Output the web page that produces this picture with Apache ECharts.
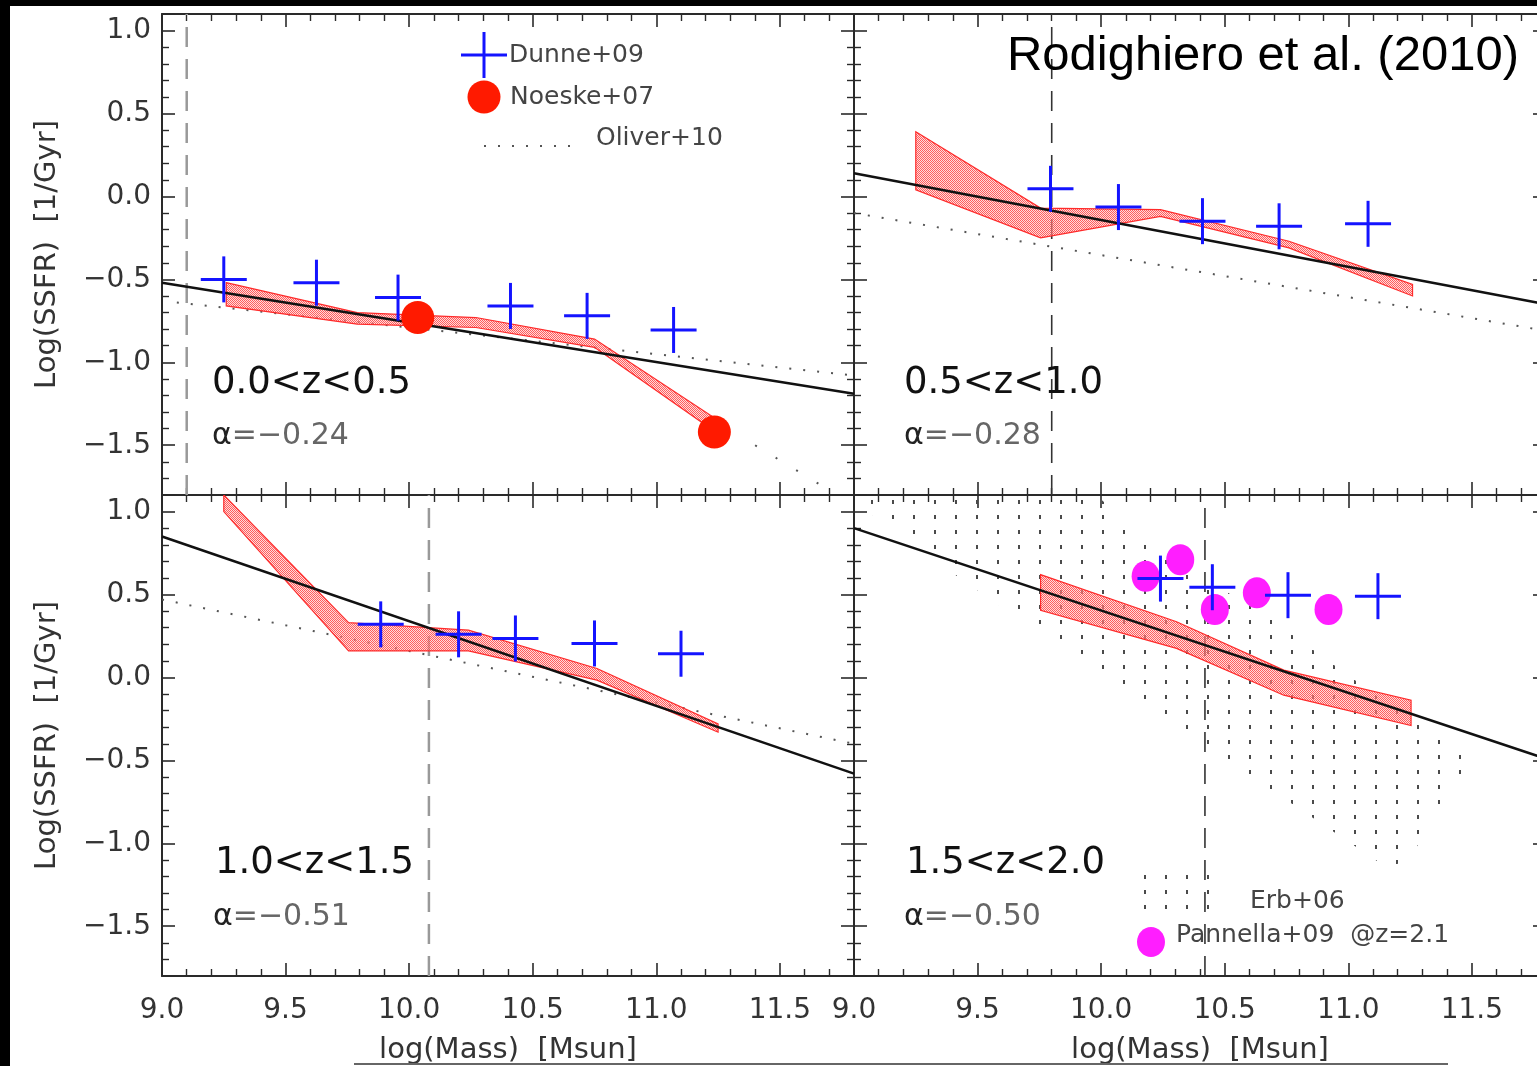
<!DOCTYPE html>
<html><head><meta charset="utf-8">
<script src="https://cdn.jsdelivr.net/npm/echarts@6/dist/echarts.min.js"></script>
<style>html,body{margin:0;padding:0;background:#fff;overflow:hidden}#c{width:1560px;height:1066px}</style>
</head><body><div id="c"></div>
<script>
// ---------- axis ranges & tick labels ----------
const xMin = 9.0, xMax = 11.8, yMin = -1.8, yMax = 1.1;
const xTickLabels = [9.0, 9.5, 10.0, 10.5, 11.0, 11.5];
const yTickLabels = [-1.5, -1.0, -0.5, 0.0, 0.5, 1.0];
const panelTitles = ['0.0<z<0.5', '0.5<z<1.0', '1.0<z<1.5', '1.5<z<2.0'];
const alphaValues = ['−0.24', '−0.28', '−0.51', '−0.50'];
const massLimits = [9.10, 9.80, 10.08, 10.42];

// ---------- panel 1 : 0.0<z<0.5 ----------
const p1DunneX = [9.25, 9.625, 9.955, 10.41, 10.72, 11.07];
const p1DunneY = [-0.50, -0.52, -0.61, -0.66, -0.72, -0.805];
const p1NoeskeX = [10.035, 11.235];
const p1NoeskeY = [-0.73, -1.42];
const p1BandX = [9.26, 9.79, 10.27, 10.75, 11.23];
const p1BandUp = [-0.52, -0.70, -0.73, -0.86, -1.33];
const p1BandLo = [-0.66, -0.77, -0.79, -0.91, -1.41];
const p1FitX = [9.0, 11.8], p1FitY = [-0.52, -1.19];
const p1OliverX = [9.06, 11.8], p1OliverY = [-0.64, -1.08];
const p1TailX = [11.40, 11.72], p1TailY = [-1.50, -1.79];

// ---------- panel 2 : 0.5<z<1.0 ----------
const p2DunneX = [9.795, 10.07, 10.41, 10.72, 11.08];
const p2DunneY = [0.046, -0.064, -0.149, -0.18, -0.165];
const p2BandX = [9.25, 9.755, 10.24, 10.76, 11.26];
const p2BandUp = [0.39, -0.07, -0.08, -0.27, -0.53];
const p2BandLo = [0.04, -0.25, -0.12, -0.31, -0.60];
const p2FitX = [9.0, 11.8], p2FitY = [0.14, -0.65];
const p2OliverX = [9.0, 11.8], p2OliverY = [-0.10, -0.81];

// ---------- panel 3 : 1.0<z<1.5 ----------
const p3DunneX = [9.885, 10.20, 10.43, 10.75, 11.10];
const p3DunneY = [0.32, 0.26, 0.235, 0.205, 0.143];
const p3BandX = [9.25, 9.755, 10.24, 10.76, 11.25];
const p3BandUp = [1.10, 0.33, 0.285, 0.054, -0.28];
const p3BandLo = [1.00, 0.16, 0.16, -0.016, -0.33];
const p3FitX = [9.0, 11.8], p3FitY = [0.85, -0.58];
const p3OliverX = [9.0, 11.8], p3OliverY = [0.47, -0.40];

// ---------- panel 4 : 1.5<z<2.0 ----------
const p4DunneX = [10.24, 10.45, 10.756, 11.12];
const p4DunneY = [0.596, 0.544, 0.496, 0.49];
const p4PannellaX = [10.18, 10.32, 10.46, 10.63, 10.92];
const p4PannellaY = [0.61, 0.71, 0.41, 0.51, 0.41];
const p4BandX = [9.755, 10.305, 10.739, 11.254];
const p4BandUp = [0.62, 0.336, 0.044, -0.137];
const p4BandLo = [0.405, 0.175, -0.107, -0.29];
const p4FitX = [9.0, 11.8], p4FitY = [0.90, -0.49];
const p4ErbX = [9.0, 9.98, 10.24, 10.65, 11.16, 11.51, 11.41, 11.25, 11.16, 10.65, 9.97, 9.38, 9.30, 9.13, 9.02];
const p4ErbY = [1.10, 1.10, 0.75, 0.39, -0.16, -0.48, -0.68, -1.09, -1.15, -0.64, 0.04, 0.65, 0.82, 0.91, 1.05];

// ---------- style ----------
const FONT = '"DejaVu Sans", sans-serif';
const BLUE = '#1414ff', RED = '#ff1a00', MAGENTA = '#ff1eff';
const AX = '#2a2a2a';

function pairs(xs, ys) { return xs.map((x, i) => [x, ys[i]]); }

function makeDashPattern() {
  const c = document.createElement('canvas');
  c.width = 21; c.height = 15;
  const g = c.getContext('2d');
  g.fillStyle = '#4a4a4a';
  g.fillRect(10, 5, 2, 4);
  return { image: c, repeat: 'repeat' };
}
function makeHatchPattern() {
  const c = document.createElement('canvas');
  c.width = 2; c.height = 2;
  const g = c.getContext('2d');
  g.fillStyle = 'rgba(255,190,190,0.55)';
  g.fillRect(0, 0, 2, 2);
  g.fillStyle = 'rgba(255,40,40,0.7)';
  g.fillRect(0, 0, 1, 1); g.fillRect(1, 1, 1, 1);
  return { image: c, repeat: 'repeat' };
}
const dashPattern = makeDashPattern();
const hatchPattern = makeHatchPattern();

function crossSeries(idx, xs, ys) {
  return {
    type: 'custom', xAxisIndex: idx, yAxisIndex: idx, z: 6, clip: true, silent: true,
    data: pairs(xs, ys),
    renderItem: (params, api) => {
      const p = api.coord([api.value(0), api.value(1)]);
      const h = 23;
      return { type: 'group', children: [
        { type: 'line', shape: { x1: p[0] - h, y1: p[1], x2: p[0] + h, y2: p[1] }, style: { stroke: BLUE, lineWidth: 3 } },
        { type: 'line', shape: { x1: p[0], y1: p[1] - h, x2: p[0], y2: p[1] + h }, style: { stroke: BLUE, lineWidth: 3 } }
      ] };
    }
  };
}

function polySeries(idx, verts, style, z) {
  return {
    type: 'custom', xAxisIndex: idx, yAxisIndex: idx, z: z, clip: true, silent: true,
    data: verts,
    renderItem: (params, api) => {
      if (params.dataIndex !== 0) return null;
      const pts = verts.map(v => api.coord(v));
      return { type: 'polygon', shape: { points: pts }, style: style };
    }
  };
}

function bandSeries(idx, xs, up, lo) {
  const verts = pairs(xs, up).concat(pairs(xs, lo).reverse());
  return polySeries(idx, verts, { fill: hatchPattern, stroke: '#ff2a2a', lineWidth: 1.2 }, 3);
}

function lineSeries(idx, xs, ys, lineStyle, z) {
  return { type: 'line', xAxisIndex: idx, yAxisIndex: idx, data: pairs(xs, ys), symbol: 'none',
    silent: true, z: z, clip: true, lineStyle: lineStyle };
}

function scatterSeries(idx, xs, ys, color, size) {
  return { type: 'scatter', xAxisIndex: idx, yAxisIndex: idx, data: pairs(xs, ys), symbol: 'circle',
    symbolSize: size, silent: true, z: 5, itemStyle: { color: color, opacity: 1 } };
}

const fitStyle = { color: '#111', width: 2.5 };
const oliverStyle = { color: '#555', width: 2, type: [2, 12] };

function limitSeries(idx, dark) {
  const m = massLimits[idx];
  return lineSeries(idx, [m, m], [yMin, yMax],
    dark ? { color: '#333', width: 1.6, type: [20, 12] } : { color: '#999', width: 2.5, type: [20, 12] }, 2);
}

// ---------- axes ----------
const grids = [
  { left: 162, top: 14, width: 692, height: 481 },
  { left: 854, top: 14, width: 692, height: 481 },
  { left: 162, top: 495, width: 692, height: 481 },
  { left: 854, top: 495, width: 692, height: 481 }
];

function baseAxis(min, max) {
  return {
    type: 'value', min: min, max: max, minInterval: 0.5, maxInterval: 0.5, splitNumber: 5,
    splitLine: { show: false }, minorSplitLine: { show: false },
    axisLine: { show: true, onZero: false, lineStyle: { color: AX, width: 2 } },
    axisTick: { show: true, inside: true, length: 13, lineStyle: { color: AX, width: 1.6 } },
    minorTick: { show: true, splitNumber: 5, length: 7, lineStyle: { color: AX, width: 1.4 } },
    axisLabel: { show: false }
  };
}
const near = (arr, v) => arr.some(t => Math.abs(t - v) < 1e-6);
const xAxes = [], yAxes = [];
for (let i = 0; i < 4; i++) {
  const xb = baseAxis(xMin, xMax);
  xb.gridIndex = i; xb.position = 'bottom';
  if (i >= 2) {
    xb.axisLabel = { show: true, margin: 21, fontSize: 28, fontFamily: FONT, color: '#333',
      showMinLabel: true, showMaxLabel: true,
      formatter: v => near(xTickLabels, v) ? v.toFixed(1) : '' };
    xb.name = 'log(Mass)  [Msun]';
    xb.nameLocation = 'middle'; xb.nameGap = 60;
    xb.nameTextStyle = { fontSize: 29, fontFamily: FONT, color: '#333' };
  }
  xAxes.push(xb);
  const yb = baseAxis(yMin, yMax);
  yb.gridIndex = i; yb.position = 'left';
  if (i === 0 || i === 2) {
    yb.axisLabel = { show: true, margin: 11, fontSize: 28, fontFamily: FONT, color: '#333',
      showMinLabel: true, showMaxLabel: true,
      formatter: v => near(yTickLabels, v) ? v.toFixed(1).replace('-', '−') : '' };
    yb.name = 'Log(SSFR)  [1/Gyr]';
    yb.nameLocation = 'middle'; yb.nameGap = 100; yb.nameRotate = 90;
    yb.nameTextStyle = { fontSize: 29, fontFamily: FONT, color: '#333' };
  }
  yAxes.push(yb);
}
for (let i = 0; i < 4; i++) {
  const xt = baseAxis(xMin, xMax); xt.gridIndex = i; xt.position = 'top'; xAxes.push(xt);
}
for (let i = 0; i < 4; i++) {
  const yr = baseAxis(yMin, yMax); yr.gridIndex = i; yr.position = 'right'; yAxes.push(yr);
}

// ---------- series ----------
const series = [
  // panel 1
  limitSeries(0, false),
  bandSeries(0, p1BandX, p1BandUp, p1BandLo),
  lineSeries(0, p1OliverX, p1OliverY, oliverStyle, 2),
  lineSeries(0, p1TailX, p1TailY, { color: '#555', width: 2, type: [2, 22] }, 2),
  lineSeries(0, p1FitX, p1FitY, fitStyle, 4),
  scatterSeries(0, p1NoeskeX, p1NoeskeY, RED, 33),
  crossSeries(0, p1DunneX, p1DunneY),
  // panel 2
  limitSeries(1, true),
  bandSeries(1, p2BandX, p2BandUp, p2BandLo),
  lineSeries(1, p2OliverX, p2OliverY, oliverStyle, 2),
  lineSeries(1, p2FitX, p2FitY, fitStyle, 4),
  crossSeries(1, p2DunneX, p2DunneY),
  // panel 3
  limitSeries(2, false),
  bandSeries(2, p3BandX, p3BandUp, p3BandLo),
  lineSeries(2, p3OliverX, p3OliverY, oliverStyle, 2),
  lineSeries(2, p3FitX, p3FitY, fitStyle, 4),
  crossSeries(2, p3DunneX, p3DunneY),
  // panel 4
  polySeries(3, pairs(p4ErbX, p4ErbY), { fill: dashPattern, stroke: null }, 1),
  limitSeries(3, true),
  bandSeries(3, p4BandX, p4BandUp, p4BandLo),
  lineSeries(3, p4FitX, p4FitY, fitStyle, 4),
  scatterSeries(3, p4PannellaX, p4PannellaY, MAGENTA, [28, 31]),
  crossSeries(3, p4DunneX, p4DunneY)
];

// ---------- text & legends ----------
const titlePos = [[212, 383], [904, 383], [215, 863], [906, 863]];
const alphaPos = [[212, 436], [904, 436], [213, 917], [904, 917]];
const graphics = [];
for (let i = 0; i < 4; i++) {
  graphics.push({ type: 'text', x: titlePos[i][0], y: titlePos[i][1], z: 20,
    style: { text: panelTitles[i], fontSize: 37, fontFamily: FONT, fill: '#111', align: 'left', verticalAlign: 'middle' } });
  graphics.push({ type: 'text', x: alphaPos[i][0], y: alphaPos[i][1], z: 20,
    style: { text: '{a|α}{b|=' + alphaValues[i] + '}', align: 'left', verticalAlign: 'middle',
      rich: { a: { fontSize: 30, fontFamily: FONT, fill: '#222' }, b: { fontSize: 30, fontFamily: FONT, fill: '#666' } } } });
}
const legTxt = (t, x, y) => ({ type: 'text', x: x, y: y, z: 20,
  style: { text: t, fontSize: 25, fontFamily: FONT, fill: '#444', align: 'left', verticalAlign: 'middle' } });
graphics.push(
  // panel 1 legend
  { type: 'line', z: 20, shape: { x1: 461, y1: 55, x2: 507, y2: 55 }, style: { stroke: BLUE, lineWidth: 3 } },
  { type: 'line', z: 20, shape: { x1: 484, y1: 32, x2: 484, y2: 78 }, style: { stroke: BLUE, lineWidth: 3 } },
  legTxt('Dunne+09', 509, 55),
  { type: 'circle', z: 20, shape: { cx: 484, cy: 97, r: 16.5 }, style: { fill: RED } },
  legTxt('Noeske+07', 510, 97),
  { type: 'line', z: 20, shape: { x1: 484, y1: 146, x2: 580, y2: 146 }, style: { stroke: '#555', lineWidth: 2, lineDash: [2, 12] } },
  legTxt('Oliver+10', 596, 138),
  // panel 4 legend
  { type: 'rect', z: 20, shape: { x: 1130, y: 870, width: 96, height: 44 }, style: { fill: dashPattern } },
  legTxt('Erb+06', 1250, 901),
  { type: 'ellipse', z: 20, shape: { cx: 1151, cy: 942, rx: 14, ry: 15 }, style: { fill: MAGENTA } },
  legTxt('Pannella+09  @z=2.1', 1176, 935),
  // figure title
  { type: 'text', x: 1519, y: 56, z: 20,
    style: { text: 'Rodighiero et al. (2010)', fontSize: 49, fontFamily: '"Liberation Sans", Arial, sans-serif',
      fill: '#000', align: 'right', verticalAlign: 'middle' } },
  // frame artefacts
  { type: 'line', z: 20, shape: { x1: 354, y1: 1064, x2: 1448, y2: 1064 }, style: { stroke: '#666', lineWidth: 2 } },
  { type: 'rect', z: 30, shape: { x: 0, y: 0, width: 1560, height: 6 }, style: { fill: '#000' } },
  { type: 'rect', z: 30, shape: { x: 0, y: 0, width: 10, height: 1066 }, style: { fill: '#000' } }
);

const chart = echarts.init(document.getElementById('c'), null, { renderer: 'canvas' });
chart.setOption({
  animation: false,
  backgroundColor: '#fff',
  grid: grids,
  xAxis: xAxes,
  yAxis: yAxes,
  series: series,
  graphic: graphics
});
</script>
</body></html>
